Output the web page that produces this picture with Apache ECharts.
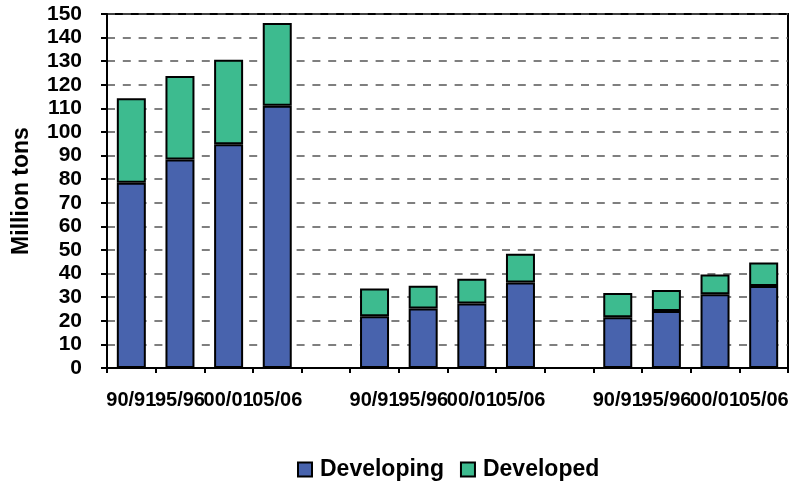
<!DOCTYPE html>
<html>
<head>
<meta charset="utf-8">
<script src="https://cdn.jsdelivr.net/npm/echarts@6/dist/echarts.min.js"></script>
<style>
  html, body { margin: 0; padding: 0; background: #fff; }
  #chart { width: 793px; height: 488px; }
</style>
</head>
<body>
<div id="chart"></div>
<script>
// Three blocks of four seasons, separated by an empty slot
const categories = ['90/91', '95/96', '00/01', '05/06', '',
                    '90/91', '95/96', '00/01', '05/06', '',
                    '90/91', '95/96', '00/01', '05/06'];

// Million tons; null marks the spacer slots
const developing = [78.5, 88.4, 94.8, 111.1, null,
                    21.9, 25.2, 27.3, 36.2, null,
                    21.5, 24.2, 31.2, 34.7];
const developed  = [35.8, 35.3, 35.8, 35.1, null,
                    11.8, 9.6, 10.5, 12.2, null,
                    10.3, 8.8, 8.4, 10.0];

const yTicks = { min: 0, max: 150, step: 10 };

const FONT = 'Liberation Sans, Arial, sans-serif';
const BLUE = '#4863AD';
const GREEN = '#3DBB8F';

const chart = echarts.init(document.getElementById('chart'), null, { renderer: 'canvas' });

chart.setOption({
  animation: false,
  backgroundColor: '#ffffff',
  grid: {
    left: 107, right: 5, top: 14, bottom: 120,
    show: true, borderColor: '#000', borderWidth: 2, backgroundColor: 'transparent'
  },
  legend: {
    top: 458,
    left: 297,
    padding: 0,
    icon: 'rect',
    itemWidth: 14,
    itemHeight: 14,
    itemGap: 16,
    textStyle: {
      fontFamily: FONT, fontWeight: 'bold', fontSize: 23, color: '#000',
      padding: [0, 0, 0, 3]
    },
    data: ['Developing', 'Developed']
  },
  xAxis: {
    type: 'category',
    data: categories,
    axisLine: { lineStyle: { color: '#000', width: 2 } },
    axisTick: { show: true, length: 5, lineStyle: { color: '#000', width: 2 } },
    axisLabel: {
      interval: 0, margin: 22,
      fontFamily: FONT, fontWeight: 'bold', fontSize: 20, color: '#000'
    }
  },
  yAxis: {
    type: 'value',
    min: yTicks.min, max: yTicks.max, interval: yTicks.step,
    name: 'Million tons',
    nameLocation: 'middle',
    nameRotate: 90,
    nameGap: 74,
    nameTextStyle: { fontFamily: FONT, fontWeight: 'bold', fontSize: 23, color: '#000' },
    axisLine: { show: true, lineStyle: { color: '#000', width: 2 } },
    axisTick: { show: true, length: 6, lineStyle: { color: '#000', width: 2 } },
    axisLabel: { margin: 25, fontFamily: FONT, fontWeight: 'bold', fontSize: 21, color: '#000' },
    splitLine: { show: true, lineStyle: { color: '#555', type: [8, 7.8], width: 1.5 } }
  },
  series: [
    {
      name: 'Developing', type: 'bar', stack: 'total', barWidth: 29,
      itemStyle: { color: BLUE, borderColor: '#000', borderWidth: 2 },
      data: developing
    },
    {
      name: 'Developed', type: 'bar', stack: 'total', barWidth: 29,
      itemStyle: { color: GREEN, borderColor: '#000', borderWidth: 2 },
      data: developed
    }
  ]
});
</script>
</body>
</html>
